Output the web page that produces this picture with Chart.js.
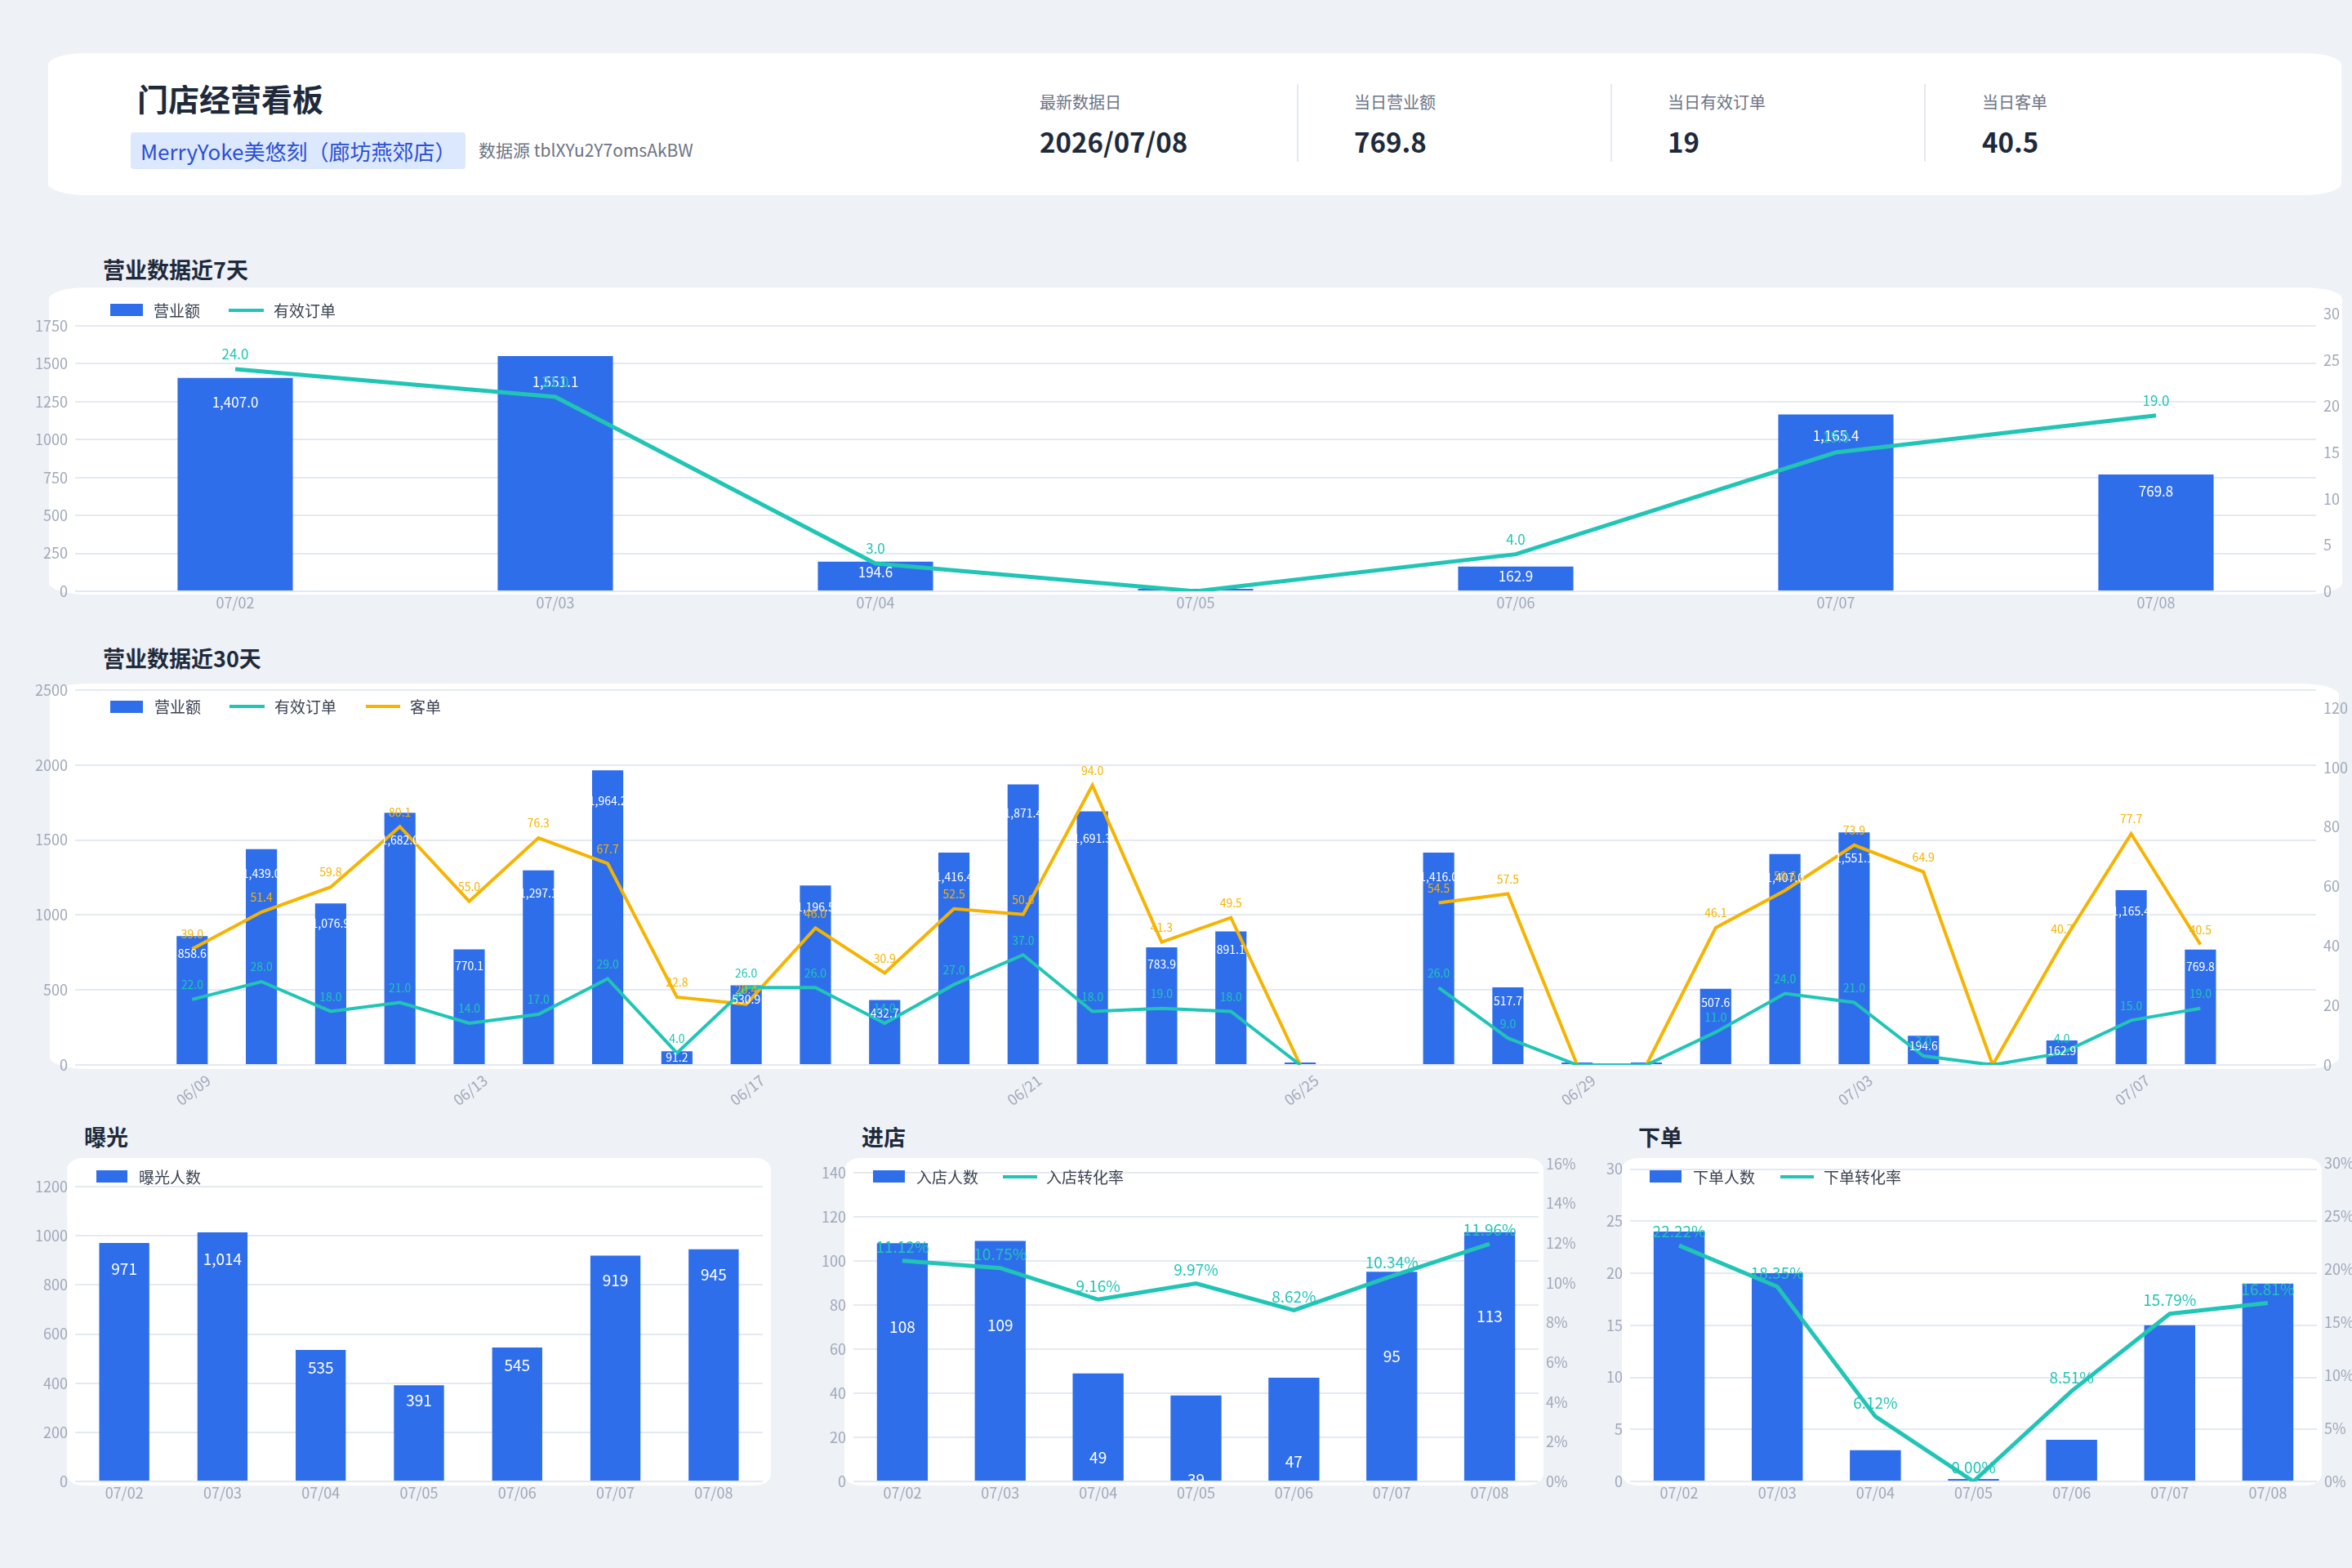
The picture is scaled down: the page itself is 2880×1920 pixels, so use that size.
<!DOCTYPE html>
<html lang="zh-CN">
<head>
<meta charset="utf-8">
<title>门店经营看板</title>
<script src="https://cdn.jsdelivr.net/npm/chart.js@4.4.1/dist/chart.umd.min.js"></script>
<style>
  body {
    margin: 0; width: 2880px; height: 1920px; position: relative; overflow: hidden;
    background: #eef1f6; color: #1e2a3b;
    font-family: "Noto Sans CJK SC", "Noto Sans", sans-serif;
  }
  .card { position: absolute; background: #fff; border-radius: 48px / 14px; }
  .card.small { border-radius: 20px / 14px; }
  .t { position: absolute; white-space: nowrap; line-height: 1; }
  .h2 { font-size: 27px; font-weight: 700; }
  .lg { font-size: 19px; color: #3a4150; }
  .kl { font-size: 20px; color: #6b7485; }
  .kv { font-size: 33px; font-weight: 700; }
  .sw { position: absolute; background: #2f6eea; }
  .ln { position: absolute; height: 4px; }
  .div { position: absolute; top: 103px; width: 2px; height: 95px; background: #e4e8ef; }
  canvas { position: absolute; }
  .over { z-index: 2; }
</style>
</head>
<body>

<!-- cards -->
<div class="card" style="left:59px;top:65px;width:2808px;height:174px"></div>
<div class="card" style="left:60px;top:352px;width:2808px;height:376px"></div>
<div class="card" style="left:61px;top:837px;width:2803px;height:472px"></div>
<div class="card small" style="left:82px;top:1418px;width:862px;height:401px"></div>
<div class="card small" style="left:1034px;top:1418px;width:856px;height:401px"></div>
<div class="card small" style="left:1986px;top:1418px;width:857px;height:401px"></div>

<!-- header -->
<div class="t" style="left:168px;top:101px;font-size:38px;font-weight:700">门店经营看板</div>
<div class="t" style="left:160px;top:162px;height:45px;line-height:45px;padding:0 12px;background:#dce8fd;border-radius:4px;font-size:26px;color:#2a4fd6">MerryYoke美悠刻（廊坊燕郊店）</div>
<div class="t" style="left:586px;top:173px;font-size:21px;color:#6b7485">数据源 tblXYu2Y7omsAkBW</div>

<div class="t kl" style="left:1273px;top:115px">最新数据日</div>
<div class="t kv" style="left:1273px;top:157px">2026/07/08</div>
<div class="div" style="left:1588px"></div>
<div class="t kl" style="left:1658px;top:115px">当日营业额</div>
<div class="t kv" style="left:1658px;top:157px">769.8</div>
<div class="div" style="left:1972px"></div>
<div class="t kl" style="left:2042px;top:115px">当日有效订单</div>
<div class="t kv" style="left:2042px;top:157px">19</div>
<div class="div" style="left:2356px"></div>
<div class="t kl" style="left:2427px;top:115px">当日客单</div>
<div class="t kv" style="left:2427px;top:157px">40.5</div>

<!-- section titles -->
<div class="t h2" style="left:126px;top:316px">营业数据近7天</div>
<div class="t h2" style="left:126px;top:792px">营业数据近30天</div>
<div class="t h2" style="left:103px;top:1378px">曝光</div>
<div class="t h2" style="left:1055px;top:1378px">进店</div>
<div class="t h2" style="left:2006px;top:1378px">下单</div>

<!-- charts -->
<canvas id="chart7" width="2880" height="420" style="left:0;top:360px"></canvas>
<canvas id="chart30" width="2880" height="560" style="left:0;top:820px"></canvas>
<canvas id="chartExpose" width="960" height="420" style="left:0;top:1430px"></canvas>
<canvas id="chartVisit" width="980" height="450" style="left:960px;top:1400px"></canvas>
<canvas id="chartOrder" width="940" height="450" style="left:1940px;top:1400px"></canvas>

<!-- legends -->
<div class="over">
  <div class="sw" style="left:135px;top:372px;width:40px;height:15px"></div>
  <div class="t lg" style="left:188px;top:370px">营业额</div>
  <div class="ln" style="left:280px;top:378px;width:43px;background:#20c5b5"></div>
  <div class="t lg" style="left:335px;top:370px">有效订单</div>

  <div class="sw" style="left:135px;top:858px;width:40px;height:15px"></div>
  <div class="t lg" style="left:189px;top:855px">营业额</div>
  <div class="ln" style="left:281px;top:863px;width:43px;background:#20c5b5"></div>
  <div class="t lg" style="left:336px;top:855px">有效订单</div>
  <div class="ln" style="left:448px;top:863px;width:42px;background:#f6b300"></div>
  <div class="t lg" style="left:502px;top:855px">客单</div>

  <div class="sw" style="left:118px;top:1433px;width:38px;height:15px"></div>
  <div class="t lg" style="left:170px;top:1431px">曝光人数</div>

  <div class="sw" style="left:1069px;top:1433px;width:39px;height:15px"></div>
  <div class="t lg" style="left:1122px;top:1431px">入店人数</div>
  <div class="ln" style="left:1228px;top:1439px;width:42px;background:#20c5b5"></div>
  <div class="t lg" style="left:1281px;top:1431px">入店转化率</div>

  <div class="sw" style="left:2020px;top:1433px;width:39px;height:15px"></div>
  <div class="t lg" style="left:2073px;top:1431px">下单人数</div>
  <div class="ln" style="left:2180px;top:1439px;width:41px;background:#20c5b5"></div>
  <div class="t lg" style="left:2233px;top:1431px">下单转化率</div>
</div>

<script>
// last 7 days
const days7 = ['07/02', '07/03', '07/04', '07/05', '07/06', '07/07', '07/08'];
const revenue7 = [1407.0, 1551.1, 194.6, 0, 162.9, 1165.4, 769.8];
const orders7 = [24, 21, 3, 0, 4, 15, 19];

// last 30 days (06/26 has no record)
const days30 = ['06/09', '06/10', '06/11', '06/12', '06/13', '06/14', '06/15', '06/16', '06/17', '06/18',
                '06/19', '06/20', '06/21', '06/22', '06/23', '06/24', '06/25', '06/26', '06/27', '06/28',
                '06/29', '06/30', '07/01', '07/02', '07/03', '07/04', '07/05', '07/06', '07/07', '07/08'];
const revenue30 = [858.6, 1439.0, 1076.9, 1682.0, 770.1, 1297.1, 1964.2, 91.2, 530.9, 1196.5,
                   432.7, 1416.4, 1871.4, 1691.3, 783.9, 891.1, 0, null, 1416.0, 517.7,
                   0, 0, 507.6, 1407.0, 1551.1, 194.6, 0, 162.9, 1165.4, 769.8];
const orders30 = [22, 28, 18, 21, 14, 17, 29, 4, 26, 26,
                  14, 27, 37, 18, 19, 18, 0, null, 26, 9,
                  0, 0, 11, 24, 21, 3, 0, 4, 15, 19];
const ticket30 = [39.0, 51.4, 59.8, 80.1, 55.0, 76.3, 67.7, 22.8, 20.4, 46.0,
                  30.9, 52.5, 50.6, 94.0, 41.3, 49.5, 0, null, 54.5, 57.5,
                  0, 0, 46.1, 58.6, 73.9, 64.9, 0, 40.7, 77.7, 40.5];

// funnel
const exposure = [971, 1014, 535, 391, 545, 919, 945];
const visitors = [108, 109, 49, 39, 47, 95, 113];
const visitRate = [11.12, 10.75, 9.16, 9.97, 8.62, 10.34, 11.96];
const buyers = [24, 20, 3, 0, 4, 15, 19];
const buyRate = [22.22, 18.35, 6.12, 0.00, 8.51, 15.79, 16.81];

const BLUE = '#2f6eea';
const TEAL = '#20c5b5';
const ORANGE = '#f6b300';
const TICK = '#a0a8b8';
const GRID = '#e4e9f1';
const FONT = '"Noto Sans CJK SC", "Noto Sans", sans-serif';

Chart.defaults.font.family = FONT;
Chart.defaults.color = TICK;

const money = v => v.toLocaleString('en-US', { minimumFractionDigits: 1, maximumFractionDigits: 1 });
const oneDec = v => v.toFixed(1);
const int = v => v.toLocaleString('en-US');
const pct = v => v.toFixed(2) + '%';

// draws the value labels (bars first, lines on top)
const valueLabels = {
    id: 'valueLabels',
    afterDatasetsDraw(chart) {
        const { ctx, chartArea } = chart;
        const list = chart.data.datasets
            .map((ds, i) => ({ ds, meta: chart.getDatasetMeta(i) }))
            .filter(d => d.ds.valueLabel)
            .sort((a, b) => (a.meta.type === 'bar' ? 0 : 1) - (b.meta.type === 'bar' ? 0 : 1));
        list.forEach(({ ds, meta }) => {
            const cfg = ds.valueLabel;
            ctx.save();
            if (meta.type === 'bar') {
                ctx.beginPath();
                ctx.rect(chartArea.left, chartArea.top, chartArea.width, chartArea.height);
                ctx.clip();
            }
            ctx.font = cfg.size + 'px ' + FONT;
            ctx.fillStyle = cfg.color;
            ctx.textAlign = 'center';
            ctx.textBaseline = 'middle';
            meta.data.forEach((el, j) => {
                const raw = ds.data[j];
                const v = raw !== null && typeof raw === 'object' ? raw.y : raw;
                if (v === null || v === undefined || (v === 0 && !cfg.showZero)) return;
                let y;
                if (meta.type === 'bar') {
                    const h = el.base - el.y;
                    y = el.y + (cfg.inset !== undefined ? cfg.inset : Math.min(h / 2, 10 + 0.075 * h));
                } else {
                    y = el.y - cfg.above;
                }
                ctx.fillText(cfg.format(v), el.x, y);
            });
            ctx.restore();
        });
    }
};

const fixWidth = w => s => { s.width = w; };
const fixHeight = h => s => { s.height = h; };

// y axis; only multiples of the step get a label and a grid line
function sideAxis(position, max, step, width, fmt, grid) {
    return {
        position: position, min: 0, max: max, bounds: 'data',
        afterBuildTicks: s => {
            s.ticks = s.ticks.filter(t => Math.abs(t.value / step - Math.round(t.value / step)) < 1e-6);
        },
        ticks: { stepSize: step, includeBounds: false, padding: 9, font: { size: 18 }, color: TICK,
                 callback: fmt || (v => v) },
        grid: grid ? { color: GRID, lineWidth: 2, drawTicks: false } : { display: false, drawTicks: false },
        border: { display: false },
        afterFit: fixWidth(width)
    };
}

function dayAxis(height) {
    return {
        type: 'category', offset: true,
        grid: { display: false, drawTicks: false },
        border: { display: false },
        ticks: { padding: 3, font: { size: 18 }, color: TICK, maxRotation: 0, autoSkip: false },
        afterFit: fixHeight(height)
    };
}

const baseOptions = (padding) => ({
    responsive: false,
    animation: false,
    events: [],
    layout: { padding: padding },
    plugins: { legend: { display: false }, tooltip: { enabled: false } }
});

// 营业数据近7天
new Chart(document.getElementById('chart7'), {
    data: {
        labels: days7,
        datasets: [{
            type: 'line', label: '有效订单', data: orders7, yAxisID: 'y1',
            borderColor: TEAL, borderWidth: 5, pointRadius: 0, tension: 0, order: 0,
            valueLabel: { color: TEAL, size: 17, above: 18, format: oneDec }
        }, {
            type: 'bar', label: '营业额', data: revenue7, yAxisID: 'y',
            backgroundColor: BLUE, barPercentage: 0.36, categoryPercentage: 1, minBarLength: 3, order: 1,
            valueLabel: { color: '#ffffff', size: 17, format: money }
        }]
    },
    options: Object.assign(baseOptions({ top: 24 }), {
        scales: {
            x: dayAxis(56),
            y: sideAxis('left', 1831, 250, 92, null, true),
            y1: sideAxis('right', 30, 5, 44, null, false)
        }
    }),
    plugins: [valueLabels]
});

// 营业数据近30天
const pts = arr => arr.map((v, i) => ({ x: i, y: v }));
new Chart(document.getElementById('chart30'), {
    data: {
        datasets: [{
            type: 'line', label: '有效订单', data: pts(orders30), yAxisID: 'y1',
            borderColor: TEAL, borderWidth: 4, pointRadius: 0, tension: 0, order: 0,
            valueLabel: { color: TEAL, size: 14, above: 18, format: oneDec }
        }, {
            type: 'line', label: '客单', data: pts(ticket30), yAxisID: 'y1',
            borderColor: ORANGE, borderWidth: 4, pointRadius: 0, tension: 0, order: 1,
            valueLabel: { color: ORANGE, size: 14, above: 18, format: oneDec }
        }, {
            type: 'bar', label: '营业额', data: pts(revenue30), yAxisID: 'y',
            backgroundColor: BLUE, barPercentage: 0.45, categoryPercentage: 1, minBarLength: 3, order: 2,
            valueLabel: { color: '#ffffff', size: 14, format: money }
        }]
    },
    options: Object.assign(baseOptions({ top: 25 }), {
        scales: {
            x: {
                type: 'linear', min: -1.69, max: 30.67, offset: false,
                grid: { display: false, drawTicks: false },
                border: { display: false },
                afterBuildTicks: s => {
                    s.ticks = days30.map((d, i) => ({ value: i })).filter(t => t.value % 4 === 0);
                },
                ticks: { autoSkip: false, minRotation: 38, maxRotation: 38, padding: 8, labelOffset: 20,
                         font: { size: 18 }, color: TICK, callback: v => days30[v] },
                afterFit: fixHeight(76)
            },
            y: sideAxis('left', 2500, 500, 92, null, true),
            y1: sideAxis('right', 126, 20, 44, null, false)
        }
    }),
    plugins: [valueLabels]
});

// 曝光
new Chart(document.getElementById('chartExpose'), {
    data: {
        labels: days7,
        datasets: [{
            type: 'bar', label: '曝光人数', data: exposure,
            backgroundColor: BLUE, barPercentage: 0.51, categoryPercentage: 1,
            valueLabel: { color: '#ffffff', size: 19, format: int }
        }]
    },
    options: Object.assign(baseOptions({ top: 23, right: 26 }), {
        scales: {
            x: dayAxis(36),
            y: sideAxis('left', 1200, 200, 92, null, true)
        }
    }),
    plugins: [valueLabels]
});

// 进店
new Chart(document.getElementById('chartVisit'), {
    data: {
        labels: days7,
        datasets: [{
            type: 'line', label: '入店转化率', data: visitRate, yAxisID: 'y1',
            borderColor: TEAL, borderWidth: 5, pointRadius: 0, tension: 0, order: 0,
            valueLabel: { color: TEAL, size: 19, above: 17, format: pct }
        }, {
            type: 'bar', label: '入店人数', data: visitors, yAxisID: 'y',
            backgroundColor: BLUE, barPercentage: 0.52, categoryPercentage: 1, order: 1,
            valueLabel: { color: '#ffffff', size: 19, inset: 103, format: int }
        }]
    },
    options: Object.assign(baseOptions({ top: 25 }), {
        scales: {
            x: dayAxis(36),
            y: sideAxis('left', 144, 20, 85, null, true),
            y1: sideAxis('right', 16, 2, 56, v => v + '%', false)
        }
    }),
    plugins: [valueLabels]
});

// 下单
new Chart(document.getElementById('chartOrder'), {
    data: {
        labels: days7,
        datasets: [{
            type: 'line', label: '下单转化率', data: buyRate, yAxisID: 'y1',
            borderColor: TEAL, borderWidth: 5, pointRadius: 0, tension: 0, order: 0,
            valueLabel: { color: TEAL, size: 19, above: 17, format: pct, showZero: true }
        }, {
            type: 'bar', label: '下单人数', data: buyers, yAxisID: 'y',
            backgroundColor: BLUE, barPercentage: 0.52, categoryPercentage: 1, minBarLength: 3, order: 1
        }]
    },
    options: Object.assign(baseOptions({ top: 24 }), {
        scales: {
            x: dayAxis(36),
            y: sideAxis('left', 30.6, 5, 56, null, true),
            y1: sideAxis('right', 30, 5, 43, v => v + '%', false)
        }
    }),
    plugins: [valueLabels]
});
</script>
</body>
</html>
